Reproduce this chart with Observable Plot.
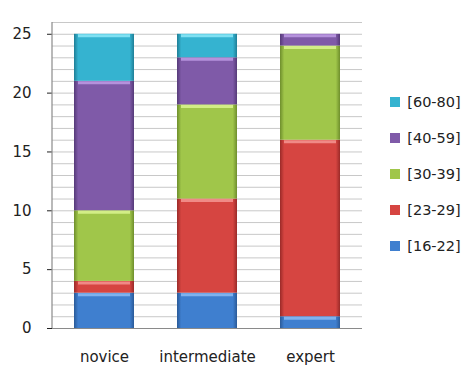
<!DOCTYPE html>
<html>
<head>
<meta charset="utf-8">
<script src="https://cdn.jsdelivr.net/npm/d3@7"></script>
<script src="https://cdn.jsdelivr.net/npm/@observablehq/plot@0.6"></script>
<style>
  body { margin: 0; background: #fff; font-family: "DejaVu Sans", sans-serif; }
  #chart { position: relative; width: 465px; height: 369px; }
  #legend { position: absolute; left: 390px; top: 93px; }
  #legend div[class$="-swatch"] { margin-bottom: 17px; line-height: 18px; }
</style>
</head>
<body>
<div id="chart"></div>
<script>
// Experience levels along the x axis
const levels = ["novice", "intermediate", "expert"];
// Age groups, stacked bottom to top
const groups = ["[16-22]", "[23-29]", "[30-39]", "[40-59]", "[60-80]"];
// Counts per age group, one value per level
const age16_22 = [3, 3, 1];
const age23_29 = [1, 8, 15];
const age30_39 = [6, 8, 8];
const age40_59 = [11, 4, 1];
const age60_80 = [4, 2, 0];
const yTicks = [0, 5, 10, 15, 20, 25];

const base = ["#3f7fcf", "#d64541", "#a0c64a", "#7f5aa8", "#35b3d0"];
const light = ["#7fb2ee", "#f08a86", "#d2ee86", "#b592dc", "#7fe0f2"];
const dark = ["#2a5a98", "#9a2a28", "#6e8e2c", "#553a78", "#1f7e96"];

const series = [age16_22, age23_29, age30_39, age40_59, age60_80];
const data = [];
groups.forEach((g, i) => levels.forEach((l, j) => data.push({level: l, group: g, count: series[i][j]})));

const gradIds = groups.map((g, i) => `grad${i}`);
const lightOf = Object.fromEntries(groups.map((g, i) => [g, light[i]]));

const plot = Plot.plot({
  width: 465,
  height: 369,
  marginLeft: 52,
  marginRight: 103,
  marginTop: 22,
  marginBottom: 41,
  style: {fontFamily: "DejaVu Sans, sans-serif", fontSize: "15px", color: "#222"},
  x: {domain: levels, paddingInner: 0.42, paddingOuter: 0.21, label: null, tickSize: 0, tickPadding: 23},
  y: {domain: [0, 26], ticks: yTicks, label: null, tickSize: 5, tickPadding: 16},
  color: {domain: groups, range: gradIds.map(id => `url(#${id})`)},
  marks: [
    Plot.ruleY(d3.range(1, 27), {stroke: "#c8c8c8", strokeOpacity: 1}),
    Plot.barY(data, Plot.stackY({x: "level", y: "count", z: "group", fill: "group"})),
    Plot.tickY(data.filter(d => d.count > 0), Plot.stackY2({
      x: "level", y: "count", z: "group",
      stroke: d => lightOf[d.group], strokeWidth: 3, dy: 1.5, inset: 4
    })),
    Plot.ruleY([0], {stroke: "#8a8a8a", strokeWidth: 1.2})
  ]
});

// Horizontal shading that gives each bar segment darker edges
const svg = d3.select(plot);
const defs = svg.insert("defs", ":first-child");
groups.forEach((g, i) => {
  const lg = defs.append("linearGradient").attr("id", gradIds[i]).attr("x1", 0).attr("x2", 1).attr("y1", 0).attr("y2", 0);
  lg.append("stop").attr("offset", "0%").attr("stop-color", dark[i]);
  lg.append("stop").attr("offset", "7%").attr("stop-color", base[i]);
  lg.append("stop").attr("offset", "50%").attr("stop-color", base[i]);
  lg.append("stop").attr("offset", "93%").attr("stop-color", base[i]);
  lg.append("stop").attr("offset", "100%").attr("stop-color", dark[i]);
});

// Left axis line at the start of the plot area
svg.append("line")
  .attr("x1", 52).attr("x2", 52).attr("y1", 22).attr("y2", 328)
  .attr("stroke", "#8a8a8a").attr("stroke-width", 1.2);

const chart = document.getElementById("chart");
chart.appendChild(plot);

const legend = Plot.legend({
  color: {domain: groups.slice().reverse(), range: base.slice().reverse()},
  legend: "swatches",
  columns: 1,
  swatchSize: 10,
  style: {fontFamily: "DejaVu Sans, sans-serif", fontSize: "14.5px", color: "#222"}
});
const holder = document.createElement("div");
holder.id = "legend";
holder.appendChild(legend);
chart.appendChild(holder);
</script>
</body>
</html>
